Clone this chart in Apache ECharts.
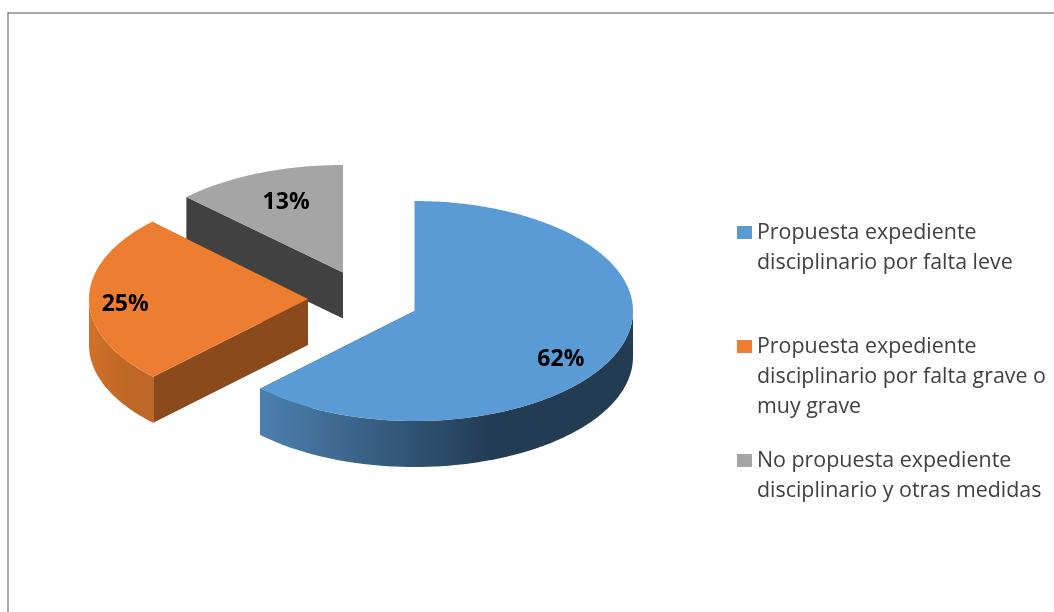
<!DOCTYPE html>
<html><head><meta charset="utf-8">
<style>html,body{margin:0;padding:0;background:#fff}#c{width:1054px;height:612px}</style>
<script src="https://cdn.jsdelivr.net/npm/echarts@6/dist/echarts.min.js"></script>
</head><body><div id="c"></div>
<script>
var categories = [
  'Propuesta expediente\ndisciplinario por falta leve',
  'Propuesta expediente\ndisciplinario por falta grave o\nmuy grave',
  'No propuesta expediente\ndisciplinario y otras medidas'
];
var values = [62.49, 24.9, 12.61];
var topColors = ['#5B9BD5', '#ED7D31', '#A5A5A5'];

var DEPTH = 46;
var layouts = [
  {cx: 414.5, cy: 311, rx: 218.5, ry: 110, wall: '#223C54', outer: ['#4C80B0', '#223C54', '#223C54'], lr: 0.725, ldy: 18},
  {cx: 308, cy: 299, rx: 219, ry: 110, wall: '#8A4A1B', outer: ['#CF7129', '#BF6726', '#BF6726'], lr: 0.835, ldy: 5},
  {cx: 343, cy: 272.5, rx: 220, ry: 107.5, wall: '#414141', outer: ['#6E6E6E', '#6E6E6E', '#6E6E6E'], lr: 0.67, ldy: -4}
];
var total = values.reduce(function (a, b) { return a + b; }, 0);

function pt(L, deg, r, dz) {
  var t = deg * Math.PI / 180;
  return [L.cx + L.rx * r * Math.sin(t), L.cy - L.ry * r * Math.cos(t) + (dz || 0)];
}
function arc(L, a, b, dz) {
  var out = [], n = Math.max(2, Math.ceil(Math.abs(b - a)));
  for (var i = 0; i <= n; i++) out.push(pt(L, a + (b - a) * i / n, 1, dz));
  return out;
}
function makeRender(idx) {
  return function (params, api) {
    var L = layouts[idx];
    var before = 0;
    for (var i = 0; i < idx; i++) before += values[i];
    var v = api.value(0);
    var a0 = before / total * 360, a1 = (before + v) / total * 360;
    var top = topColors[idx];
    var kids = [];
    [a0, a1].forEach(function (a) {
      var p = pt(L, a, 1), c = [L.cx, L.cy];
      kids.push({type: 'polygon', shape: {points: [c, p, [p[0], p[1] + DEPTH], [c[0], c[1] + DEPTH]]},
        style: {fill: L.wall}});
    });
    var s = Math.max(a0, 90), e = Math.min(a1, 270);
    if (e > s) {
      var up = arc(L, s, e, 0), down = arc(L, e, s, DEPTH);
      kids.push({type: 'polygon', shape: {points: up.concat(down)},
        style: {fill: new echarts.graphic.LinearGradient(1, 0, 0, 0, [
          {offset: 0, color: L.outer[2]},
          {offset: 0.38, color: L.outer[1]},
          {offset: 1, color: L.outer[0]}
        ])}});
    }
    kids.push({type: 'polygon', shape: {points: [[L.cx, L.cy]].concat(arc(L, a0, a1, 0))},
      style: {fill: top}});
    var lp = pt(L, (a0 + a1) / 2, L.lr, L.ldy);
    kids.push({type: 'text', style: {x: lp[0], y: lp[1], text: Math.round(v / total * 100) + '%',
      fill: '#000', font: 'bold 23px "Open Sans"', align: 'center', verticalAlign: 'middle'}});
    return {type: 'group', children: kids};
  };
}
var order = [2, 1, 0];
var series = order.map(function (i) {
  return {type: 'custom', name: categories[i], coordinateSystem: 'none',
    itemStyle: {color: topColors[i]}, data: [[values[i]]], renderItem: makeRender(i), silent: true, z: 3 - i};
});
function legendAt(i, top, h) {
  return {data: [categories[i]], left: 737, top: top, orient: 'vertical', padding: 0,
    selectedMode: false, itemWidth: 15, itemHeight: h,
    icon: 'path://M0 0L0.01 0L0 0.01Z M15 ' + h + 'L14.99 ' + h + 'L15 ' + (h - 0.01) + 'Z M0 8H15V21H0Z',
    textStyle: {fontFamily: 'Open Sans', fontSize: 21.4, lineHeight: 30, color: '#404040'}};
}
var chart = echarts.init(document.getElementById('c'), null, {renderer: 'canvas'});
chart.setOption({
  animation: false,
  backgroundColor: '#fff',
  legend: [legendAt(0, 218, 60), legendAt(1, 332, 90), legendAt(2, 446, 60)],
  graphic: [
    {type: 'line', shape: {x1: 8, y1: 13, x2: 1054, y2: 13}, style: {stroke: '#8A8A8A', lineWidth: 1.5}},
    {type: 'line', shape: {x1: 8, y1: 12, x2: 8, y2: 612}, style: {stroke: '#8A8A8A', lineWidth: 1.5}}
  ],
  series: series
});
</script></body></html>
